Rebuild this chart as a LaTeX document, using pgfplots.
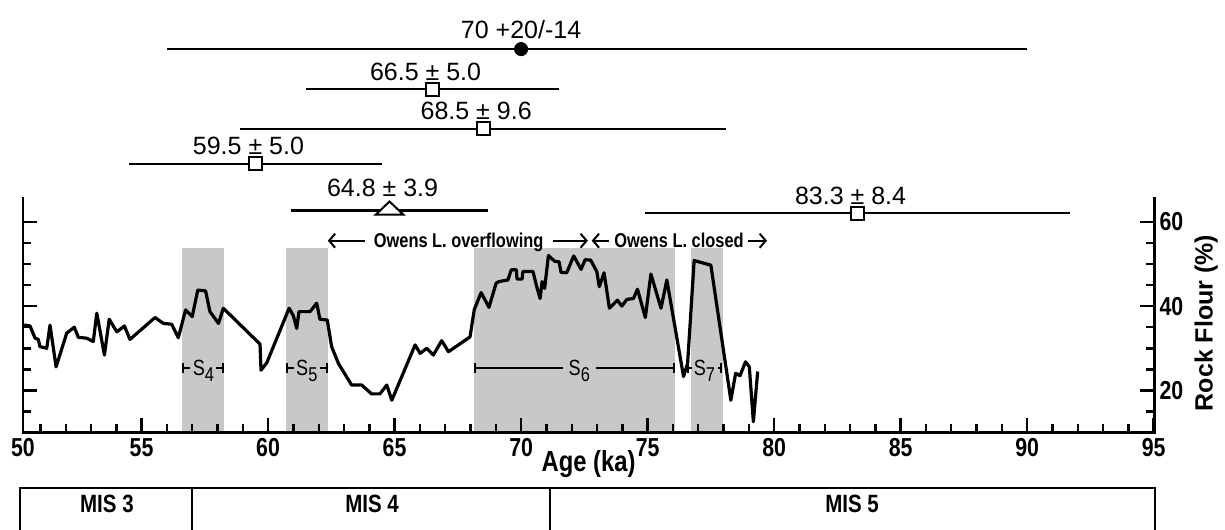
\documentclass[border=0pt]{standalone}
\usepackage{fontspec}
\setmainfont{Liberation Sans}
\newfontfamily\condf[FakeStretch=0.82]{Liberation Sans}
\usepackage{pgfplots}
\pgfplotsset{compat=1.18}
\usetikzlibrary{arrows.meta}
\definecolor{band}{RGB}{200,200,200}

\begin{document}
\begin{tikzpicture}
\begin{axis}[
  scale only axis, width=565.5pt, height=117.3pt,
  xmin=50.31, xmax=95.02, ymin=10, ymax=65.6,
  clip=false, axis on top,
  axis line style={draw=none},
  xtick={50.31,55,60,65,70,75,80,85,90,95},
  xticklabels={50,55,60,65,70,75,80,85,90,95},
  minor xtick={51,52,53,54,56,57,58,59,61,62,63,64,66,67,68,69,71,72,73,74,76,77,78,79,81,82,83,84,86,87,88,89,91,92,93,94},
  ytick={20,40,60},
  minor ytick={15,25,30,35,45,50,55},
  xtick pos=bottom, ytick pos=both, yticklabel pos=right,
  tick align=inside,
  major tick length=7.2pt, minor tick length=4.2pt,
  tick style={black, line width=1.2pt},
  /pgf/number format/assume math mode=true,
  ticklabel style={font=\condf\bfseries\fontsize{13}{14}\selectfont},
  xticklabel style={inner sep=0pt, anchor=north, yshift=-2.5pt},
  yticklabel style={inner sep=0pt, anchor=west, xshift=2.5pt},
  xlabel={Age (ka)},
  xlabel style={font=\condf\bfseries\fontsize{14.5}{15}\selectfont, at={(axis description cs:0.5,0)}, anchor=north, inner sep=0pt, yshift=-8.5pt},
  ylabel={Rock Flour (\%)},
  ylabel style={font=\bfseries\fontsize{12.5}{13}\selectfont, at={(axis description cs:1,0.4676)}, anchor=center, yshift=-26pt},
]
% shaded stadial bands
\addplot[fill=band, draw=none] coordinates {(56.61,10) (56.61,53.8) (58.27,53.8) (58.27,10)} -- cycle;
\addplot[fill=band, draw=none] coordinates {(60.70,10) (60.70,53.8) (62.36,53.8) (62.36,10)} -- cycle;
\addplot[fill=band, draw=none] coordinates {(68.14,10) (68.14,53.8) (76.09,53.8) (76.09,10)} -- cycle;
\addplot[fill=band, draw=none] coordinates {(76.70,10) (76.70,53.8) (77.97,53.8) (77.97,10)} -- cycle;

% S brackets
\draw[line width=1pt, {Bar[width=5pt]}-{Bar[width=5pt]}] (axis cs:56.61,25.3) -- (axis cs:58.27,25.3)
  node[midway, anchor=base, yshift=-3.8pt, fill=band, inner xsep=1.2pt, inner ysep=0.5pt, font=\condf\fontsize{11}{11}\selectfont] {S\raisebox{-3pt}{\fontsize{10}{10}\selectfont 4}};
\draw[line width=1pt, {Bar[width=5pt]}-{Bar[width=5pt]}] (axis cs:60.70,25.3) -- (axis cs:62.36,25.3)
  node[midway, anchor=base, yshift=-3.8pt, fill=band, inner xsep=1.2pt, inner ysep=0.5pt, font=\condf\fontsize{11}{11}\selectfont] {S\raisebox{-3pt}{\fontsize{10}{10}\selectfont 5}};
\draw[line width=1pt, {Bar[width=5pt]}-{Bar[width=5pt]}] (axis cs:68.14,25.3) -- (axis cs:76.09,25.3);
\node[anchor=base, yshift=-3.8pt, fill=band, inner xsep=3pt, inner ysep=0.5pt, font=\condf\fontsize{11}{11}\selectfont] at (axis cs:72.3,25.3) {S\raisebox{-3pt}{\fontsize{10}{10}\selectfont 6}};
\draw[line width=1pt, {Bar[width=5pt]}-{Bar[width=5pt]}] (axis cs:76.57,25.3) -- (axis cs:77.93,25.3)
  node[midway, anchor=base, yshift=-3.8pt, fill=band, inner xsep=1.2pt, inner ysep=0.5pt, font=\condf\fontsize{11}{11}\selectfont] {S\raisebox{-3pt}{\fontsize{10}{10}\selectfont 7}};

% rock flour curve
\addplot[black, line width=1.6pt, line join=round, mark=none] table {
50.31 35.5
50.39 35.5
50.59 35.3
50.79 32.4
50.92 32.1
50.98 30.4
51.25 30.0
51.38 35.5
51.62 25.6
52.04 33.6
52.34 35.0
52.50 32.6
52.83 32.4
53.09 31.6
53.23 38.3
53.53 28.4
53.72 36.9
54.02 33.9
54.32 35.3
54.54 32.1
55.53 37.3
55.86 35.9
56.19 35.7
56.45 32.5
56.74 39.1
57.00 37.5
57.22 43.8
57.53 43.6
57.70 38.7
58.04 35.9
58.23 39.5
59.68 31.0
59.72 24.8
59.95 26.6
60.83 39.5
61.00 37.7
61.13 34.7
61.22 38.7
61.66 38.7
61.92 40.7
62.05 36.9
62.34 36.7
62.51 30.4
62.78 26.4
63.30 21.3
63.70 21.3
64.09 19.2
64.42 19.2
64.69 21.3
64.89 17.7
65.81 30.8
66.01 28.8
66.27 30.0
66.53 28.4
66.86 31.8
67.13 29.2
67.98 32.7
68.15 39.2
68.42 43.2
68.73 39.7
69.01 45.4
69.12 45.8
69.48 46.2
69.61 48.6
69.81 48.6
69.84 46.4
70.04 46.4
70.07 48.2
70.47 48.2
70.60 45.0
70.75 41.8
70.83 45.8
70.93 44.2
71.08 52.0
71.33 50.6
71.50 50.5
71.58 48.0
71.80 47.9
72.08 51.9
72.37 48.7
72.53 51.0
72.75 50.9
72.99 48.2
73.09 44.6
73.28 47.9
73.49 39.5
73.81 41.4
73.98 40.0
74.18 41.6
74.44 41.8
74.60 44.0
74.91 37.3
75.13 47.6
75.53 39.5
75.76 46.2
76.42 23.3
76.58 26.4
76.84 50.8
77.50 49.7
78.29 17.7
78.48 24.1
78.65 23.5
78.87 26.8
79.02 25.6
79.18 12.6
79.35 24.5
};

% age estimates
\addplot[black, only marks, mark=*, mark size=3.3pt, mark options={fill=black, draw=black},
  error bars/.cd, x dir=both, x explicit, error mark=none, error bar style={line width=1.2pt, black}]
  coordinates {(70,100.9) += (20,0) -= (14,0)};
\addplot[black, only marks, mark=square*, mark size=3.25pt, mark options={fill=white, draw=black, line width=1pt},
  error bars/.cd, x dir=both, x explicit, error mark=none, error bar style={line width=1.2pt, black}]
  coordinates {(66.5,91.4) +- (5.0,0) (68.5,82.0) +- (9.6,0) (59.5,73.7) +- (5.0,0) (83.3,62.0) +- (8.4,0)};
\addplot[black, only marks, mark=triangle*, mark size=8pt, mark options={fill=white, draw=black, line width=1pt, yscale=0.55},
  error bars/.cd, x dir=both, x explicit, error mark=none, error bar style={line width=1.2pt, black}]
  coordinates {(64.8,62.7) +- (3.9,0)};

\node[anchor=base, font=\fontsize{12.5}{13}\selectfont, yshift=5.5pt] at (axis cs:70,100.9) {70 +20/-14};
\node[anchor=base, font=\fontsize{12.5}{13}\selectfont, yshift=4.6pt, xshift=-3.5pt] at (axis cs:66.5,91.4) {66.5 ± 5.0};
\node[anchor=base, font=\fontsize{12.5}{13}\selectfont, yshift=4.6pt, xshift=-3.5pt] at (axis cs:68.5,82.0) {68.5 ± 9.6};
\node[anchor=base, font=\fontsize{12.5}{13}\selectfont, yshift=4.6pt, xshift=-3.5pt] at (axis cs:59.5,73.7) {59.5 ± 5.0};
\node[anchor=base, font=\fontsize{12.5}{13}\selectfont, yshift=7pt, xshift=-3.5pt] at (axis cs:64.8,62.7) {64.8 ± 3.9};
\node[anchor=base, font=\fontsize{12.5}{13}\selectfont, yshift=4.6pt, xshift=-3.5pt] at (axis cs:83.3,62.0) {83.3 ± 8.4};

% Owens Lake annotation
\draw[line width=1pt, -{Straight Barb[length=3pt,width=7pt]}] (axis cs:63.83,55.5) -- (axis cs:62.36,55.5);
\node[anchor=base, font=\condf\bfseries\fontsize{10}{11}\selectfont, inner sep=0pt] at (axis cs:67.53,54.0) {Owens L. overflowing};
\draw[line width=1pt, -{Straight Barb[length=3pt,width=7pt]}] (axis cs:71.26,55.5) -- (axis cs:72.64,55.5);
\draw[line width=1pt, -{Straight Barb[length=3pt,width=7pt]}] (axis cs:73.48,55.5) -- (axis cs:72.79,55.5);
\node[anchor=base, font=\condf\bfseries\fontsize{10}{11}\selectfont, inner sep=0pt] at (axis cs:76.24,54.0) {Owens L. closed};
\draw[line width=1pt, -{Straight Barb[length=3pt,width=7pt]}] (axis cs:78.97,55.5) -- (axis cs:79.72,55.5);

% axis spines (no top line)
\draw[line width=1.4pt, line cap=rect] (rel axis cs:0,1) -- (rel axis cs:0,0) -- (rel axis cs:1,0) -- (rel axis cs:1,1);

% MIS box
\draw[line width=1.2pt] (axis cs:50.19,-13.5) -- (axis cs:50.19,-3.1) -- (axis cs:95.05,-3.1) -- (axis cs:95.05,-13.5);
\draw[line width=1.2pt] (axis cs:57,-3.1) -- (axis cs:57,-13.5);
\draw[line width=1.2pt] (axis cs:71.14,-3.1) -- (axis cs:71.14,-13.5);
\node[anchor=base, font=\condf\bfseries\fontsize{12.5}{13}\selectfont] at (axis cs:53.63,-9.0) {MIS 3};
\node[anchor=base, font=\condf\bfseries\fontsize{12.5}{13}\selectfont] at (axis cs:64.11,-9.0) {MIS 4};
\node[anchor=base, font=\condf\bfseries\fontsize{12.5}{13}\selectfont] at (axis cs:83.08,-9.0) {MIS 5};

\coordinate (BL) at (axis cs:49.403,-12.82);
\coordinate (TR) at (axis cs:97.822,112.54);
\end{axis}
\pgfresetboundingbox
\useasboundingbox (BL) rectangle (TR);
\end{tikzpicture}
\end{document}
